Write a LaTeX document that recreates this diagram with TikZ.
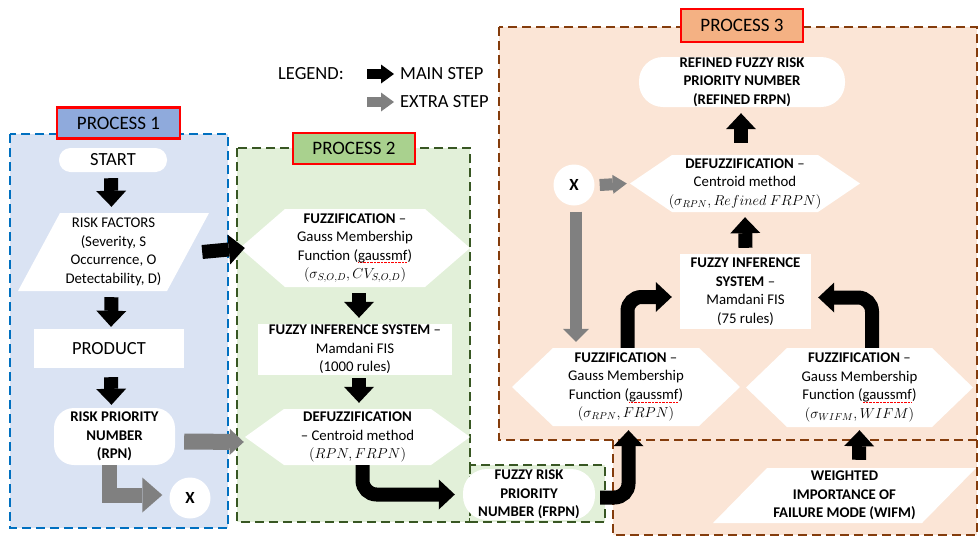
\documentclass[tikz,border=0pt]{standalone}
\usepackage{fontspec}
\setmainfont{Carlito}
\usetikzlibrary{arrows.meta,calc}
\definecolor{p1fill}{HTML}{DAE3F3}
\definecolor{p1line}{HTML}{0070C0}
\definecolor{p1lab}{HTML}{8FAADC}
\definecolor{p2fill}{HTML}{E2F0D9}
\definecolor{p2line}{HTML}{385723}
\definecolor{p2lab}{HTML}{A9D18E}
\definecolor{p3fill}{HTML}{FBE5D6}
\definecolor{p3line}{HTML}{843C0C}
\definecolor{p3lab}{HTML}{F4B183}
\definecolor{xgray}{HTML}{808080}
\newcommand\spellerr[1]{\setbox0\hbox{#1}\rlap{\raisebox{-3pt}{\color{red}\leaders\hbox to 1.4pt{\hss\rule{0.7pt}{0.7pt}\hss}\hskip\wd0}}#1}
\tikzset{
  container/.style={line width=2.5pt, dash pattern=on 9pt off 5pt},
  plabel/.style={draw=red, line width=2.5pt, inner sep=0pt, font=\fontsize{19}{22}\selectfont},
  body/.style={font=\fontsize{14.8}{18.5}\selectfont, align=center, inner sep=0pt},
  bold/.style={font=\fontsize{14.8}{18.5}\selectfont\bfseries},
  big/.style={font=\fontsize{18.5}{22}\selectfont},
  pill/.style={body, rectangle, fill=white},
  whitebox/.style={body, rectangle, fill=white},
  hexa/.style={body, path picture={\fill[white] (path picture bounding box.west) -- ([xshift=#1]path picture bounding box.north west) -- ([xshift=-#1]path picture bounding box.north east) -- (path picture bounding box.east) -- ([xshift=-#1]path picture bounding box.south east) -- ([xshift=#1]path picture bounding box.south west) -- cycle;}},
  para/.style={body, path picture={\fill[white] (path picture bounding box.south west) -- ([xshift=#1]path picture bounding box.north west) -- (path picture bounding box.north east) -- ([xshift=-#1]path picture bounding box.south east) -- cycle;}},
  xnode/.style={circle, fill=white, minimum size=41pt, inner sep=0pt, font=\fontsize{17}{20}\selectfont\bfseries},
  mainarr/.style={draw=black, line width=14pt, -{Triangle[width=30pt,length=16pt,line width=0pt]}},
  extraarr/.style={draw=xgray, line width=12pt, -{Triangle[width=26pt,length=13pt,line width=0pt]}},
}
\begin{document}
\begin{tikzpicture}[x=1pt,y=-1pt]
\useasboundingbox (0,0) rectangle (978,536);
\fill[white] (0,0) rectangle (978,536);
% containers
\fill[p1fill] (10,134) rectangle (228,528);
\draw[container, p1line] (10,134) rectangle (228,528);
\fill[p2fill] (237,148) rectangle (470,522);
\draw[container, p2line] (237,148) rectangle (470,522);
\fill[p2fill] (470,465) rectangle (605,522);
\draw[container, p2line] (470,465) rectangle (605,522);
\fill[p3fill] (499,27) rectangle (977,440);
\fill[p3fill] (613,440) rectangle (977,535);
\draw[container, p3line] (499,27) rectangle (977,440);
\draw[container, p3line] (613,440) -- (613,535) -- (977,535) -- (977,440);
% labels
\node[plabel, fill=p1lab, minimum width=123pt, minimum height=31pt] (p1) at (118.5,123) {PROCESS 1};
\node[plabel, fill=p2lab, minimum width=122pt, minimum height=31pt] (p2) at (354,148.5) {PROCESS 2};
\node[plabel, fill=p3lab, minimum width=122pt, minimum height=33pt] (p3) at (742,25.5) {PROCESS 3};
% legend
\node[big, anchor=west, inner sep=0pt] (leg) at (278,74) {LEGEND:};
\node[big, anchor=west, inner sep=0pt] (lmain) at (400,74) {MAIN STEP};
\node[big, anchor=west, inner sep=0pt] (lextra) at (400,102) {EXTRA STEP};
\draw[draw=black, line width=10pt, -{Triangle[width=19pt,length=13pt,line width=0pt]}] ([xshift=-33pt]lmain.west) -- ([xshift=-6pt]lmain.west);
\draw[draw=xgray, line width=10pt, -{Triangle[width=19pt,length=13pt,line width=0pt]}] ([xshift=-33pt]lextra.west) -- ([xshift=-6pt]lextra.west);
% process 1
\node[pill, big, rounded corners=11.5pt, minimum width=108pt, minimum height=24pt] (start) at (113,160) {START};
\node[para=42pt, minimum width=191pt, minimum height=78pt] (rf) at (113.5,252) {RISK FACTORS\\(Severity, S\\Occurrence, O\\Detectability, D)};
\node[whitebox, big, minimum width=150pt, minimum height=39pt] (product) at (109,348.5) {PRODUCT};
\node[pill, bold, rounded corners=20pt, minimum width=121pt, minimum height=57pt] (rpn) at (114.5,436.5) {RISK PRIORITY\\NUMBER\\(RPN)};
\node[xnode] (x1) at (190,498) {X};
\draw[mainarr] ([xshift=-2pt,yshift=-6pt]start.south) -- ([xshift=-2pt,yshift=6pt]rf.north);
\draw[mainarr] ([xshift=-2pt,yshift=-6pt]rf.south) -- ([xshift=2pt,yshift=2pt]product.north);
\draw[mainarr] ([xshift=2pt,yshift=-9pt]product.south) -- ([xshift=-3pt,yshift=3pt]rpn.north);
% process 2
\node[hexa=45pt, minimum width=230pt, minimum height=78pt] (h1) at (355,248) {\textbf{FUZZIFICATION} –\\Gauss Membership\\Function (\spellerr{gaussmf})\\$(\sigma_{S,O,D},CV_{S,O,D})$};
\node[whitebox, minimum width=194pt, minimum height=51pt] (fis1) at (355,349.5) {\textbf{FUZZY INFERENCE SYSTEM} –\\Mamdani FIS\\(1000 rules)};
\node[hexa=39pt, minimum width=225pt, minimum height=56pt] (dz1) at (357.5,437) {\textbf{DEFUZZIFICATION}\\– Centroid method\\$(RPN,FRPN)$};
\node[pill, bold, rounded corners=24pt, minimum width=132pt, minimum height=51pt] (frpn) at (529,494.5) {FUZZY RISK\\PRIORITY\\NUMBER (FRPN)};
\draw[mainarr] ([xshift=-7pt]rf.east) -- ([xshift=5pt]h1.west);
\draw[draw=xgray, line width=16pt, -{Triangle[width=26pt,length=14pt,line width=0pt]}] ([xshift=9pt,yshift=-5pt]rpn.east) -- ([xshift=-1pt,yshift=-5pt]dz1.west);
\draw[draw=xgray, line width=15pt, -{Triangle[width=35pt,length=20pt,line width=0pt]}] ([xshift=-5pt]rpn.south) |- ([xshift=-7pt,yshift=3pt]x1.west);
\draw[mainarr] ([xshift=4pt,yshift=-6pt]h1.south) -- ([xshift=4pt,yshift=6pt]fis1.north);
\draw[mainarr] ([xshift=4pt,yshift=-3pt]fis1.south) -- ([xshift=1.5pt,yshift=6pt]dz1.north);
\draw[mainarr, rounded corners=14pt] ([xshift=5pt]dz1.south) |- ([xshift=-8pt]frpn.west);
% process 3
\node[pill, bold, rounded corners=24pt, minimum width=206pt, minimum height=50pt] (rfrpn) at (742,82) {REFINED FUZZY RISK\\PRIORITY NUMBER\\(REFINED FRPN)};
\node[hexa=42pt, minimum width=230pt, minimum height=57pt] (dz3) at (745,183.5) {\textbf{DEFUZZIFICATION} –\\Centroid method\\$(\sigma_{RPN},Refined\ FRPN)$};
\node[whitebox, minimum width=131pt, minimum height=75pt] (fis3) at (745.5,291.5) {\textbf{FUZZY INFERENCE}\\\textbf{SYSTEM} –\\Mamdani FIS\\(75 rules)};
\node[hexa=41pt, minimum width=228pt, minimum height=78pt] (fz3a) at (626,387) {\textbf{FUZZIFICATION} –\\Gauss Membership\\Function (\spellerr{gaussmf})\\$(\sigma_{RPN},FRPN)$};
\node[hexa=41pt, minimum width=227pt, minimum height=79pt] (fz3b) at (859.5,387.5) {\textbf{FUZZIFICATION} –\\Gauss Membership\\Function (\spellerr{gaussmf})\\$(\sigma_{WIFM},WIFM)$};
\node[para=54pt, bold, minimum width=263pt, minimum height=55pt] (wifm) at (844.5,495.5) {WEIGHTED\\IMPORTANCE OF\\FAILURE MODE (WIFM)};
\node[xnode] (x2) at (574,185) {X};
\draw[mainarr] ([xshift=-4pt,yshift=12pt]dz3.north) -- ([xshift=-1pt,yshift=-6pt]rfrpn.south);
\draw[mainarr] ([yshift=6pt]fis3.north) -- ([yshift=-5pt]dz3.south);
\draw[mainarr, rounded corners=14pt] ([xshift=1.5pt]fz3a.north) |- ([xshift=-8pt,yshift=-5.5pt]fis3.west);
\draw[mainarr, rounded corners=14pt] ([xshift=12.5pt]fz3b.north) |- ([xshift=7pt,yshift=-6pt]fis3.east);
\draw[mainarr, rounded corners=14pt] ([xshift=5pt,yshift=-3pt]frpn.east) -| ([xshift=2.5pt,yshift=-4pt]fz3a.south);
\draw[mainarr] ([xshift=14.5pt,yshift=8pt]wifm.north) -- ([yshift=-3pt]fz3b.south);
\draw[draw=xgray, line width=12pt, -{Triangle[width=19pt,length=14pt,line width=0pt]}] ([xshift=5pt]x2.east) -- ([xshift=-3pt]dz3.west);
\draw[extraarr] ([xshift=2pt,yshift=-6pt]x2.south) -- ($(x2.south |- fz3a.north)+(2,-6)$);
\end{tikzpicture}
\end{document}
